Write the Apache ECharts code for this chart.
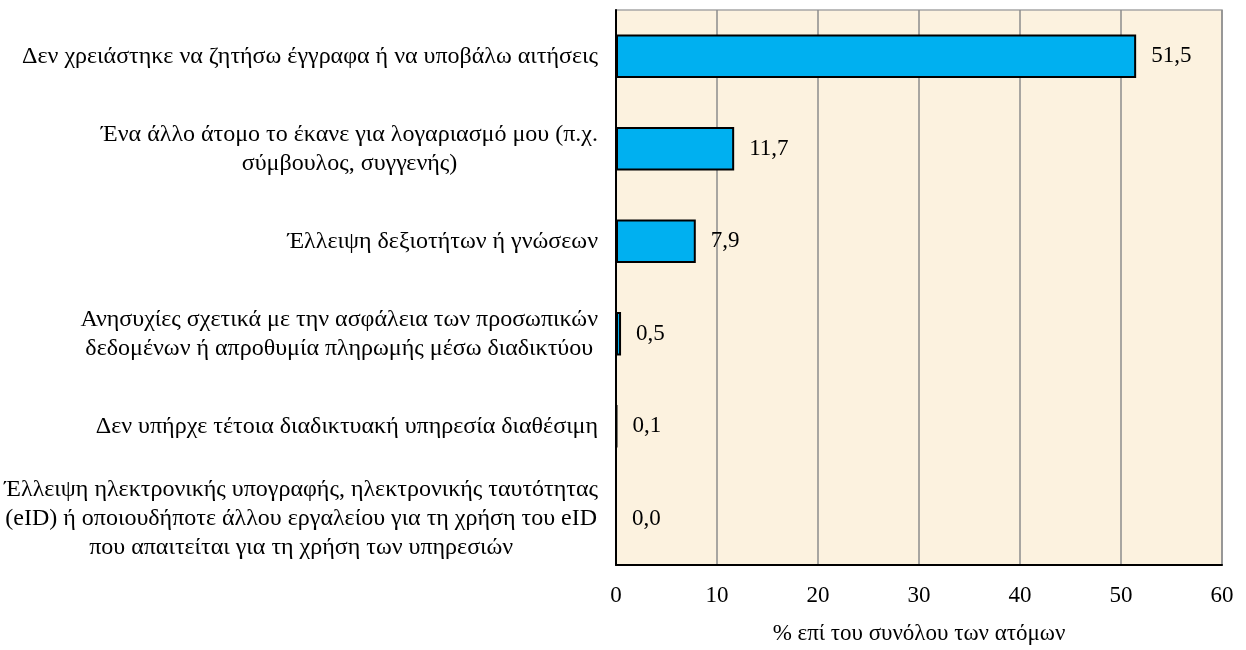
<!DOCTYPE html>
<html>
<head>
<meta charset="utf-8">
<script src="https://cdn.jsdelivr.net/npm/echarts@6/dist/echarts.min.js"></script>
<style>html,body{margin:0;padding:0;background:#fff;}#c{width:1246px;height:650px;}</style>
</head>
<body>
<div id="c"></div>
<script>
// Categories listed bottom-to-top (ECharts category y-axis starts at the bottom)
const categories = [
  "Έλλειψη ηλεκτρονικής υπογραφής, ηλεκτρονικής ταυτότητας\n(eID) ή οποιουδήποτε άλλου εργαλείου για τη χρήση του eID\nπου απαιτείται για τη χρήση των υπηρεσιών",
  "Δεν υπήρχε τέτοια διαδικτυακή υπηρεσία διαθέσιμη",
  "Ανησυχίες σχετικά με την ασφάλεια των προσωπικών\nδεδομένων ή απροθυμία πληρωμής μέσω διαδικτύου",
  "Έλλειψη δεξιοτήτων ή γνώσεων",
  "Ένα άλλο άτομο το έκανε για λογαριασμό μου (π.χ.\nσύμβουλος, συγγενής)",
  "Δεν χρειάστηκε να ζητήσω έγγραφα ή να υποβάλω αιτήσεις"
];
const values = [0.0, 0.1, 0.5, 7.9, 11.7, 51.5];
const xTicks = [0, 10, 20, 30, 40, 50, 60];
const xAxisName = "% επί του συνόλου των ατόμων";

const FONT = "'Liberation Serif', 'DejaVu Serif', serif";
const chart = echarts.init(document.getElementById('c'));
chart.setOption({
  backgroundColor: '#ffffff',
  animation: false,
  grid: { left: 616, right: 24, top: 10, bottom: 80, containLabel: false,
          show: true, backgroundColor: '#FCF2DF', borderColor: '#A6A6A6', borderWidth: 1.5 },
  xAxis: {
    type: 'value', min: xTicks[0], max: xTicks[xTicks.length - 1], interval: 10,
    name: xAxisName, nameLocation: 'middle', nameGap: 57,
    nameTextStyle: { fontFamily: FONT, fontSize: 23, color: '#000' },
    axisLine: { show: true, lineStyle: { color: '#000', width: 2 } },
    axisTick: { show: false },
    axisLabel: { fontFamily: FONT, fontSize: 23, color: '#000', margin: 19 },
    splitLine: { show: true, lineStyle: { color: '#8C8C8C', width: 1.5 } }
  },
  yAxis: {
    type: 'category', data: categories,
    axisLine: { show: true, lineStyle: { color: '#000', width: 2 } },
    axisTick: { show: false },
    axisLabel: {
      margin: 18, align: 'right', color: '#000', fontFamily: FONT, fontSize: 24,
      formatter: function (v) { return v.split('\n').map(function (l) { return '{c|' + l + '}'; }).join('\n'); },
      rich: { c: { align: 'center', fontFamily: FONT, fontSize: 24, lineHeight: 29, color: '#000' } }
    }
  },
  series: [{
    type: 'bar', data: values, barCategoryGap: '53%',
    itemStyle: { color: '#00B0F0', borderColor: '#000', borderWidth: 2 },
    label: {
      show: true, position: 'right', distance: 15, color: '#000', fontFamily: FONT, fontSize: 23,
      formatter: function (p) { return p.value.toFixed(1).replace('.', ','); }
    }
  }]
});
</script>
</body>
</html>
